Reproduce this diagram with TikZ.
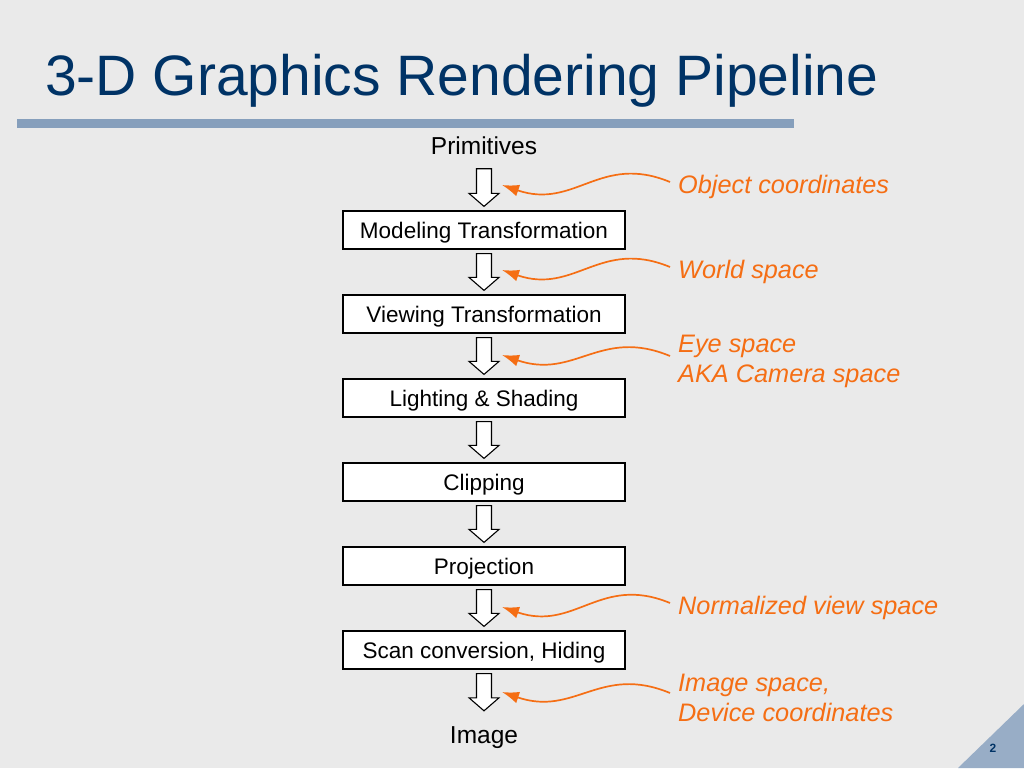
\documentclass[tikz,border=0pt]{standalone}
\usepackage{fontspec}
\setmainfont{Liberation Sans}
\usetikzlibrary{arrows.meta,calc}

\definecolor{slidebg}{RGB}{234,234,234}
\definecolor{titleblue}{RGB}{0,51,102}
\definecolor{barblue}{RGB}{134,159,188}
\definecolor{noteorange}{RGB}{245,110,20}

\tikzset{
  stage/.style={draw=black,fill=white,line width=1.2pt,minimum width=282pt,minimum height=38pt,inner sep=0pt,text height=20pt,text depth=4pt,font=\fontsize{22.5}{27}\selectfont},
  term/.style={minimum height=38pt,inner sep=0pt,text height=18pt,text depth=0pt,font=\fontsize{24.5}{29}\selectfont},
  note/.style={anchor=west,inner sep=0pt,align=left,text=noteorange,font=\fontsize{25.3}{30}\selectfont\itshape},
  hollow/.style={draw=black,fill=white,line width=1.1pt,line join=miter},
  pointer/.style={draw=noteorange,line width=1.7pt,-{Latex[length=17pt,width=12pt]}}
}

\newcommand{\pipearrow}[2]{%
  \draw[hollow] let \p1=(#1.south), \p2=(#2.north) in
    (\x1-7.5pt,\y1-4pt) -- (\x1-7.5pt,\y2+17pt) -- (\x1-15pt,\y2+17pt) -- (\x1,\y2+4pt)
    -- (\x1+15pt,\y2+17pt) -- (\x1+7.5pt,\y2+17pt) -- (\x1+7.5pt,\y1-4pt) -- cycle;}
\newcommand{\notelink}[2]{%
  \draw[pointer] ([shift={(-8,-5)}]#1.west) .. controls +(-70,-29) and +(73,25) .. (#2);}

\begin{document}
\begin{tikzpicture}[x=1pt,y=-1pt]
\fill[slidebg] (0,0) rectangle (1024,768);
\useasboundingbox (0,0) rectangle (1024,768);
\fill[barblue] (17,119) rectangle (794,128);
\fill[barblue!85!white] (958,768) -- (1024,704) -- (1024,768) -- cycle;

\node[anchor=base west,inner sep=0pt,text=titleblue,font=\fontsize{57}{68}\selectfont] (title) at (45,95) {3-D Graphics Rendering Pipeline};
\node[text=titleblue,font=\bfseries\fontsize{12}{14}\selectfont] (num) at (993,748) {2};

\node[term] (prim) at (484,145.5) {Primitives};
\node[stage] (model) at (484,230) {Modeling Transformation};
\node[stage] (view) at (484,314) {Viewing Transformation};
\node[stage] (light) at (484,398) {Lighting \& Shading};
\node[stage] (clip) at (484,482) {Clipping};
\node[stage] (proj) at (484,566) {Projection};
\node[stage] (scan) at (484,650) {Scan conversion, Hiding};
\node[term] (img) at (484,734) {Image};

\pipearrow{prim}{model}
\pipearrow{model}{view}
\pipearrow{view}{light}
\pipearrow{light}{clip}
\pipearrow{clip}{proj}
\pipearrow{proj}{scan}
\pipearrow{scan}{img}

\node[note] (obj) at (678,187) {Object coordinates};
\node[note] (world) at (678,272) {World space};
\node[note] (eye) at (678,361) {Eye space\\AKA Camera space};
\node[note] (ndc) at (678,608) {Normalized view space};
\node[note] (dev) at (678,698) {Image space,\\Device coordinates};

\coordinate (t1) at (502,185);
\coordinate (t2) at (502,270);
\coordinate (t3) at (502,355);
\coordinate (t4) at (502,607);
\coordinate (t5) at (502,692);

\notelink{obj}{t1}
\notelink{world}{t2}
\notelink{eye}{t3}
\notelink{ndc}{t4}
\notelink{dev}{t5}
\end{tikzpicture}
\end{document}
